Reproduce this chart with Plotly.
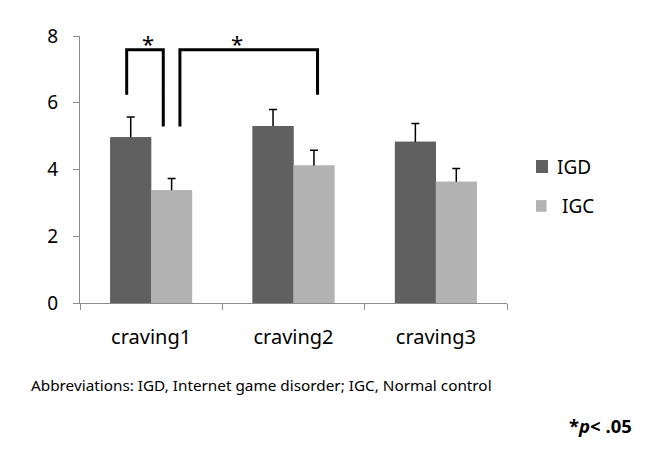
import plotly.graph_objects as go

categories = ["craving1", "craving2", "craving3"]
igd_mean = [4.97, 5.30, 4.83]
igd_err = [0.60, 0.50, 0.55]
igc_mean = [3.38, 4.12, 3.63]
igc_err = [0.35, 0.46, 0.40]
y_ticks = [0, 2, 4, 6, 8]

# significance brackets: (x_left, x_right, left_leg_bottom, right_leg_bottom, top)
brackets = [(-0.172, 0.085, 6.24, 5.29, 7.59), (0.202, 1.169, 5.29, 6.24, 7.59)]
star_x = [-0.023, 0.60]

FONT = "Noto Sans"
DARK = "#606060"
LIGHT = "#b2b2b2"
AXIS = "#8c8c8c"

# page body has an 8px margin; plot area target: x 80..507, y 36.3..302.7 (page px)
L, R, T, B = 72, 654 - 499, 28.3, 469 - 294.7
PW, PH = 654 - L - R, 469 - T - B


def px_x(px):
    return (px - 8 - L) / PW


def px_y(py):
    return (469 - B - (py - 8)) / PH


fig = go.Figure()
err_style = dict(color="black", thickness=1.5, width=4)
# bars carrying the error bars (drawn first)
fig.add_trace(go.Bar(x=categories, y=igd_mean, offsetgroup="igd", marker=dict(color=DARK, line=dict(width=0)),
                     error_y=dict(type="data", array=igd_err, **err_style), hoverinfo="skip"))
fig.add_trace(go.Bar(x=categories, y=igc_mean, offsetgroup="igc", marker=dict(color=LIGHT, line=dict(width=0)),
                     error_y=dict(type="data", array=igc_err, **err_style), hoverinfo="skip"))
# bars on top hide the lower half of the error bars
fig.add_trace(go.Bar(x=categories, y=igd_mean, name="IGD", offsetgroup="igd",
                     marker=dict(color=DARK, line=dict(width=0))))
fig.add_trace(go.Bar(x=categories, y=igc_mean, name="IGC", offsetgroup="igc",
                     marker=dict(color=LIGHT, line=dict(width=0))))

for (x0, x1, yl, yr, yt) in brackets:
    fig.add_shape(type="path", xref="x", yref="y",
                  path=f"M {x0} {yl} L {x0} {yt} L {x1} {yt} L {x1} {yr}",
                  line=dict(color="black", width=3))
for sx in star_x:
    fig.add_annotation(x=sx, y=7.59, xref="x", yref="y", text="*", showarrow=False,
                       yanchor="bottom", yshift=-10, font=dict(family=FONT, size=22, color="black"))

# legend (manual)
fig.add_shape(type="rect", xref="paper", yref="paper", x0=px_x(536), x1=px_x(548), y0=px_y(173), y1=px_y(160),
              fillcolor=DARK, line=dict(width=0))
fig.add_shape(type="rect", xref="paper", yref="paper", x0=px_x(536), x1=px_x(546.5), y0=px_y(211.7), y1=px_y(200),
              fillcolor=LIGHT, line=dict(width=0))
fig.add_annotation(x=px_x(555), y=px_y(167), xref="paper", yref="paper", text="IGD", showarrow=False,
                   xanchor="left", yanchor="middle", font=dict(family=FONT, size=19, color="black"))
fig.add_annotation(x=px_x(560), y=px_y(206), xref="paper", yref="paper", text="IGC", showarrow=False,
                   xanchor="left", yanchor="middle", font=dict(family=FONT, size=19, color="black"))

fig.add_annotation(x=px_x(31), y=px_y(385), xref="paper", yref="paper",
                   text="Abbreviations: IGD, Internet game disorder; IGC, Normal control",
                   showarrow=False, xanchor="left", yanchor="middle", xshift=-2,
                   font=dict(family=FONT, size=15.3, color="black"))
fig.add_annotation(x=px_x(632), y=px_y(425), xref="paper", yref="paper",
                   text="<b>*<i>p</i>&lt; .05</b>", showarrow=False, xanchor="right", yanchor="middle", xshift=2,
                   font=dict(family=FONT, size=18.5, color="black"))

fig.update_layout(
    width=654, height=469,
    margin=dict(l=L, r=R, t=T, b=B, pad=0, autoexpand=False),
    plot_bgcolor="white", paper_bgcolor="white",
    barmode="group", bargap=0.425, bargroupgap=0,
    showlegend=False,
    font=dict(family=FONT, color="black"),
)
fig.update_xaxes(
    type="category", showline=True, linecolor=AXIS, linewidth=1,
    ticks="outside", tickson="boundaries", ticklen=6, tickcolor=AXIS,
    tickfont=dict(family=FONT, size=20, color="black"), ticklabelstandoff=16,
    showgrid=False, zeroline=False,
)
fig.update_yaxes(
    range=[0, 8], tickvals=y_ticks, showline=True, linecolor=AXIS, linewidth=1,
    ticks="outside", ticklen=6, tickcolor=AXIS,
    tickfont=dict(family=FONT, size=19, color="black"), ticklabelstandoff=11,
    showgrid=False, zeroline=False,
)

fig.write_html("out.html")
